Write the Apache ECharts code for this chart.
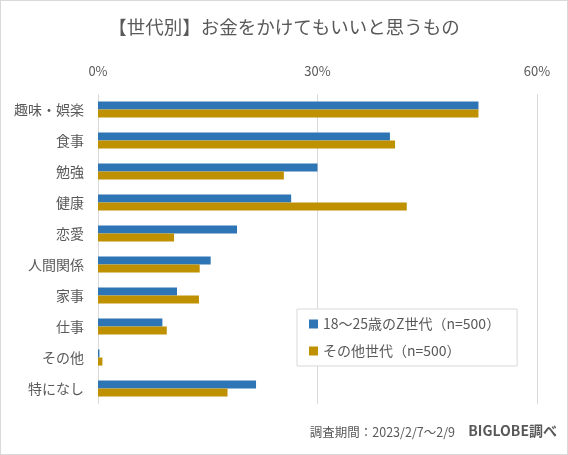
<!DOCTYPE html>
<html>
<head>
<meta charset="utf-8">
<script src="https://cdn.jsdelivr.net/npm/echarts@6/dist/echarts.min.js"></script>
<style>
html,body{margin:0;padding:0;background:#fff;}
#c{width:568px;height:455px;box-sizing:border-box;border:1px solid #d9d9d9;}
</style>
</head>
<body>
<div id="c"></div>
<script>
const categories = ['趣味・娯楽','食事','勉強','健康','恋愛','人間関係','家事','仕事','その他','特になし'];
const genZ = [52.0, 39.9, 30.0, 26.4, 19.0, 15.4, 10.8, 8.8, 0.2, 21.6];
const others = [52.0, 40.6, 25.4, 42.2, 10.4, 13.9, 13.8, 9.4, 0.6, 17.7];
const seriesNames = ['18～25歳のZ世代（n=500）','その他世代（n=500）'];
const valueTicks = {min:0, max:60, interval:30};

const FONT = '"Noto Sans CJK JP","Noto Sans",sans-serif';
const chart = echarts.init(document.getElementById('c'), null, {renderer:'canvas'});
chart.setOption({
  backgroundColor:'#fff',
  animation:false,
  textStyle:{fontFamily:FONT},
  title:{
    text:'【世代別】お金をかけてもいいと思うもの',
    left:'center', top:12,
    textStyle:{fontFamily:FONT, fontSize:18.5, fontWeight:'normal', color:'#595959'}
  },
  legend:{
    orient:'vertical', left:296, top:308,
    padding:[8,17,8,12],
    borderColor:'#d9d9d9', borderWidth:1, backgroundColor:'#fff',
    itemWidth:9, itemHeight:9, itemGap:13, icon:'rect',
    textStyle:{fontFamily:FONT, fontSize:14, color:'#595959'},
    data:seriesNames
  },
  grid:{left:97, right:30, top:93, bottom:50, containLabel:false},
  xAxis:{
    type:'value', position:'top', min:valueTicks.min, max:valueTicks.max, interval:valueTicks.interval,
    axisLine:{show:false}, axisTick:{show:false},
    splitLine:{lineStyle:{color:'#d9d9d9', width:1}},
    axisLabel:{formatter:'{value}%', color:'#595959', fontSize:13, margin:16, fontFamily:FONT}
  },
  yAxis:{
    type:'category', inverse:true, data:categories,
    axisLine:{show:false}, axisTick:{show:false},
    axisLabel:{color:'#595959', fontSize:14, margin:14, fontFamily:FONT}
  },
  series:[
    {name:seriesNames[0], type:'bar', data:genZ, barGap:'0%', barCategoryGap:'48%', itemStyle:{color:'#2E75B6'}},
    {name:seriesNames[1], type:'bar', data:others, barGap:'0%', barCategoryGap:'48%', itemStyle:{color:'#BF9000'}}
  ],
  graphic:[
    {type:'text', right:112, top:425, style:{text:'調査期間：2023/2/7～2/9', fontFamily:FONT, fontSize:12.5, fill:'#595959'}},
    {type:'text', right:10, top:423, style:{text:'BIGLOBE調べ', fontFamily:FONT, fontSize:14, fontWeight:'bold', fill:'#595959'}}
  ]
});
</script>
</body>
</html>
